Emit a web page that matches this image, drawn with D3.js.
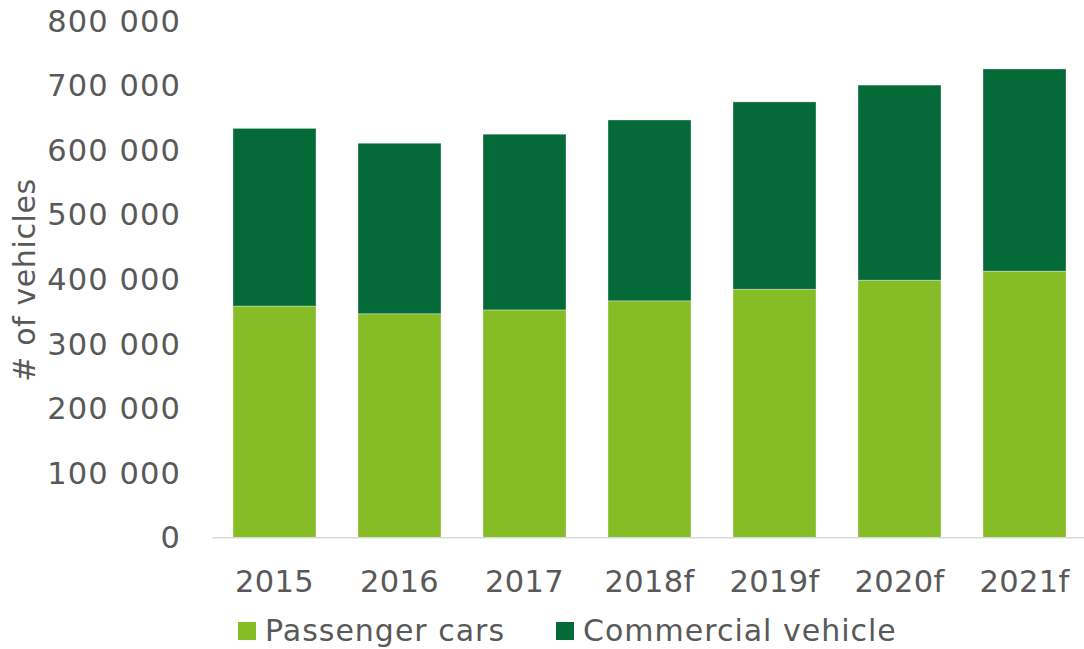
<!DOCTYPE html>
<html>
<head>
<meta charset="utf-8">
<script src="https://cdn.jsdelivr.net/npm/d3@7"></script>
<style>
  html, body { margin: 0; padding: 0; background: #fff; }
  svg { display: block; }
  text { font-family: "DejaVu Sans", Verdana, sans-serif; fill: #595959; }
</style>
</head>
<body>
<svg id="chart" width="1084" height="649"></svg>
<script>
const categories = ["2015", "2016", "2017", "2018f", "2019f", "2020f", "2021f"];
const passengerCars = [358000, 346000, 352000, 366000, 384000, 398000, 412000];
const commercialVehicle = [275000, 264000, 272000, 280000, 290000, 302000, 313000];
const yTicks = [0, 100000, 200000, 300000, 400000, 500000, 600000, 700000, 800000];
const seriesNames = ["Passenger cars", "Commercial vehicle"];
const seriesColors = ["#86BC25", "#046A38"];

const svg = d3.select("#chart");

const x = d3.scaleBand()
  .domain(categories)
  .range([212, 1087])
  .paddingInner(0.336)
  .paddingOuter(0.168);

const y = d3.scaleLinear()
  .domain([0, 800000])
  .range([537.3, 20.5]);

const fmt = v => v === 0 ? "0" : d3.format(",")(v).replace(/,/g, " ");

// y-axis labels
const yAxis = d3.axisLeft(y).tickValues(yTicks).tickFormat(fmt).tickSize(0).tickPadding(0);
const gy = svg.append("g").attr("transform", "translate(181,0)").call(yAxis);
gy.select(".domain").remove();
gy.selectAll("text")
  .style("font-family", '"DejaVu Sans", Verdana, sans-serif')
  .style("font-size", "30.5px")
  .style("letter-spacing", "1.1px")
  .attr("fill", "#595959")
  .attr("dy", "0.35em");

// stacked data
const rows = categories.map((c, i) => ({cat: c, p: passengerCars[i], c: commercialVehicle[i]}));
const stack = d3.stack().keys(["p", "c"]);
const stacked = stack(rows);

svg.append("g").selectAll("g")
  .data(stacked)
  .join("g")
  .attr("fill", (d, i) => seriesColors[i])
  .selectAll("rect")
  .data(d => d)
  .join("rect")
  .attr("x", d => x(d.data.cat))
  .attr("width", x.bandwidth())
  .attr("y", d => y(d[1]))
  .attr("height", d => y(d[0]) - y(d[1]))
  .attr("stroke", "rgba(255,255,255,0.45)")
  .attr("stroke-width", 0.75);

// x axis
const xAxis = d3.axisBottom(x).tickSize(0).tickPadding(0);
const gx = svg.append("g").attr("transform", `translate(0,${y(0)})`).call(xAxis);
gx.select(".domain").attr("stroke", "#d9d9d9").attr("stroke-width", 1.5);
gx.selectAll("text")
  .style("font-family", '"DejaVu Sans", Verdana, sans-serif')
  .style("font-size", "30.5px")
  .style("letter-spacing", "0.3px")
  .attr("fill", "#595959")
  .attr("dy", "0")
  .attr("y", 55);

// y axis title
svg.append("text")
  .attr("transform", "translate(35,280) rotate(-90)")
  .attr("text-anchor", "middle")
  .style("font-size", "30px")
  .style("letter-spacing", "0.6px")
  .text("# of vehicles");

// legend
const legendX = [238, 556];
const lg = svg.append("g").selectAll("g")
  .data(seriesNames)
  .join("g")
  .attr("transform", (d, i) => `translate(${legendX[i]},622)`);
lg.append("rect")
  .attr("width", 18).attr("height", 18)
  .attr("fill", (d, i) => seriesColors[i]);
lg.append("text")
  .attr("x", 27).attr("y", 19)
  .style("font-size", "30px")
  .style("letter-spacing", "1px")
  .text(d => d);
</script>
</body>
</html>
